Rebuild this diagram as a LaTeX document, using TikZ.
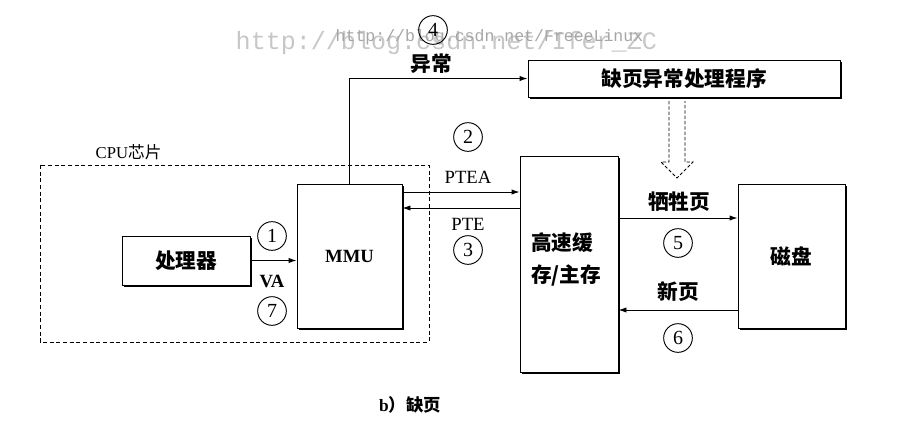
\documentclass[tikz,border=0pt]{standalone}
\usepackage{fontspec}
\setmainfont{Liberation Serif}
\newfontfamily\cjk{Noto Sans CJK SC}
\newfontfamily\wmfont{Liberation Mono}
\usetikzlibrary{shadows,arrows.meta}
\tikzset{
  sz/.style 2 args={minimum width=#1*0.75pt, minimum height=#2*0.75pt},
  box/.style={draw, fill=white, line width=0.7pt, inner sep=0pt,
    drop shadow={shadow xshift=1.5pt, shadow yshift=-1.5pt, opacity=1, fill=black}},
  arr/.style={-{Latex[length=6pt,width=4pt]}, line width=0.7pt},
  num/.style={draw, circle, line width=0.7pt, minimum size=21.5pt, inner sep=0pt, font=\fontsize{15}{15}\selectfont},
  zh/.style={font=\cjk\bfseries\fontsize{15.5}{24}\selectfont},
  lat/.style={font=\fontsize{14}{15}\selectfont},
  latb/.style={font=\bfseries\fontsize{14}{15}\selectfont},
  wm/.style={text=black!22, font=\wmfont}
}
\begin{document}
\begin{tikzpicture}[x=0.75pt,y=-0.75pt]
\useasboundingbox (0,0) rectangle (913,425);
% watermarks
\node[wm, font=\wmfont\fontsize{18.8}{20}\selectfont, anchor=west] (wm1) at (231,43) {http://blog.csdn.net/Ifer\_ZC};
\node[wm, font=\wmfont\fontsize{12.4}{13}\selectfont, anchor=west, text=black!35] (wm2) at (331,37) {http://blog.csdn.net/FreeeLinux};
% CPU chip dashed area
\draw[line width=0.7pt, dash pattern=on 3pt off 2pt] (40,165) rectangle (429,342);
\node[font=\fontsize{12.5}{13}\selectfont, anchor=west] (cpu) at (91,152) {CPU{\cjk 芯片}};
% boxes
\node[box, sz={128}{49}, zh] (proc) at (186,260.5) {处理器};
\node[box, sz={105}{144}, latb] (mmu) at (349.5,256) {MMU};
\node[box, sz={98}{216}] (cache) at (569,264) {};
\node[zh, align=left] (cachetxt) at (566,259) {高速缓\\存/主存};
\node[box, sz={107}{144}, zh] (disk) at (791.5,256) {磁盘};
\node[box, sz={312}{37}, zh] (handler) at (684,78.5) {缺页异常处理程序};
% level coordinates
\coordinate (yA) at (0,192);
\coordinate (yB) at (0,208);
\coordinate (yC) at (0,218);
\coordinate (yD) at (0,310);
% connectors
\draw[arr] (proc.east) -- (proc.east -| mmu.west);
\draw[arr] (mmu.east |- yA) -- (cache.west |- yA);
\draw[arr] (cache.west |- yB) -- (mmu.east |- yB);
\draw[arr] (cache.east |- yC) -- (disk.west |- yC);
\draw[arr] (disk.west |- yD) -- (cache.east |- yD);
\draw[arr] (mmu.north) |- (handler.west);
% hollow dashed arrow
\draw[line width=0.6pt, dash pattern=on 2.5pt off 1.5pt, line join=miter]
  (669,101) -- (669,162) -- (661,162) -- (677,178) -- (693,162) -- (685,162) -- (685,101);
% labels
\node[num] (n1) at (272,236) {1};
\node[latb] (va) at (272,281) {VA};
\node[num] (n7) at (272,311) {7};
\node[num] (n2) at (468,137) {2};
\node[lat] (ptea) at (468,177) {PTEA};
\node[lat] (pte) at (468,224) {PTE};
\node[num] (n3) at (468,250) {3};
\node[num] (n4) at (433,30) {4};
\node[zh] (yc) at (431,64) {异常};
\node[zh] (victim) at (679,202) {牺牲页};
\node[num] (n5) at (678,243) {5};
\node[zh] (newp) at (678,292) {新页};
\node[num] (n6) at (678,338) {6};
\node[font=\fontsize{13}{14}\selectfont] (cap) at (410,405) {\textbf{b}{\cjk\bfseries ）缺页}};
\end{tikzpicture}
\end{document}
